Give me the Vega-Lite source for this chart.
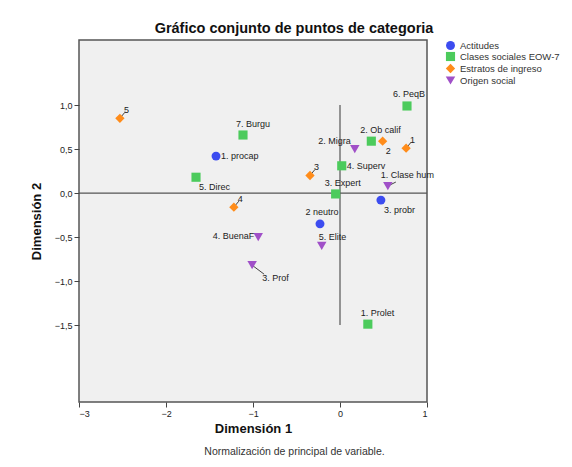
{
  "$schema": "https://vega.github.io/schema/vega-lite/v6.json",
  "autosize": "none",
  "width": 348,
  "height": 362,
  "padding": {"left": 79, "top": 40, "right": 145, "bottom": 65},
  "background": "white",
  "config": {
    "font": "Liberation Sans",
    "view": {"fill": "#f0f0f0", "stroke": "#555555", "strokeWidth": 1.5},
    "axis": {"grid": false, "domain": false, "tickColor": "#444444", "tickSize": 5, "labelFontSize": 9, "labelColor": "#222222", "titleFontSize": 13, "titleFontWeight": "bold", "titleColor": "#111111"}
  },
  "title": {"text": "Gráfico conjunto de puntos de categoria", "fontSize": 14.5, "fontWeight": "bold", "color": "#111111", "anchor": "middle", "offset": 4, "dx": 41},
  "data": {"values": [
    {"grupo": "Actitudes", "label": "1. procap", "d1": -1.425, "d2": 0.42},
    {"grupo": "Actitudes", "label": "2 neutro", "d1": -0.23, "d2": -0.35},
    {"grupo": "Actitudes", "label": "3. probr", "d1": 0.47, "d2": -0.08},
    {"grupo": "Clases sociales EOW-7", "label": "7. Burgu", "d1": -1.115, "d2": 0.66},
    {"grupo": "Clases sociales EOW-7", "label": "5. Direc", "d1": -1.655, "d2": 0.18},
    {"grupo": "Clases sociales EOW-7", "label": "6. PeqB", "d1": 0.77, "d2": 0.99},
    {"grupo": "Clases sociales EOW-7", "label": "2. Ob calif", "d1": 0.36, "d2": 0.59},
    {"grupo": "Clases sociales EOW-7", "label": "4. Superv", "d1": 0.02, "d2": 0.31},
    {"grupo": "Clases sociales EOW-7", "label": "3. Expert", "d1": -0.05, "d2": -0.01},
    {"grupo": "Clases sociales EOW-7", "label": "1. Prolet", "d1": 0.32, "d2": -1.49},
    {"grupo": "Estratos de ingreso", "label": "5", "d1": -2.53, "d2": 0.85},
    {"grupo": "Estratos de ingreso", "label": "4", "d1": -1.22, "d2": -0.16},
    {"grupo": "Estratos de ingreso", "label": "3", "d1": -0.345, "d2": 0.2},
    {"grupo": "Estratos de ingreso", "label": "2", "d1": 0.49, "d2": 0.59},
    {"grupo": "Estratos de ingreso", "label": "1", "d1": 0.76, "d2": 0.51},
    {"grupo": "Origen social", "label": "4. BuenaF", "d1": -0.94, "d2": -0.5},
    {"grupo": "Origen social", "label": "3. Prof", "d1": -1.01, "d2": -0.82},
    {"grupo": "Origen social", "label": "5. Elite", "d1": -0.21, "d2": -0.6},
    {"grupo": "Origen social", "label": "2. Migra", "d1": 0.17, "d2": 0.5},
    {"grupo": "Origen social", "label": "1. Clase hum", "d1": 0.55, "d2": 0.08}
  ]},
  "encoding": {
    "x": {"field": "d1", "type": "quantitative", "scale": {"domain": [-3, 1], "nice": false, "zero": false}, "axis": null},
    "y": {"field": "d2", "type": "quantitative", "scale": {"domain": [-2.375, 1.74], "nice": false, "zero": false}, "axis": {"title": "Dimensión 2", "values": [-1.5, -1, -0.5, 0, 0.5, 1], "labelExpr": "replace(format(datum.value, '.1f'), '.', ',')", "titlePadding": 11}}
  },
  "layer": [
    {
      "data": {"values": [{"h": 0}]},
      "mark": {"type": "rule", "color": "#555555", "strokeWidth": 1.2},
      "encoding": {"x": null, "y": {"field": "h", "type": "quantitative"}}
    },
    {
      "data": {"values": [{"v": 0, "a": -1.5, "b": 1.0}]},
      "mark": {"type": "rule", "color": "#555555", "strokeWidth": 1.2},
      "encoding": {"x": {"field": "v", "type": "quantitative", "axis": null}, "y": {"field": "a", "type": "quantitative"}, "y2": {"field": "b"}}
    },
    {
      "transform": [{"filter": {"field": "label", "oneOf": ["5", "4", "3", "1"]}}],
      "mark": {"type": "rule", "color": "#444444", "strokeWidth": 1, "x2Offset": 5, "y2Offset": -6},
      "encoding": {"x2": {"field": "d1"}, "y2": {"field": "d2"}}
    },
    {
      "transform": [{"filter": {"field": "label", "oneOf": ["3. Prof"]}}],
      "mark": {"type": "rule", "color": "#444444", "strokeWidth": 1, "x2Offset": 12, "y2Offset": 9},
      "encoding": {"x2": {"field": "d1"}, "y2": {"field": "d2"}}
    },
    {
      "transform": [{"filter": {"field": "label", "oneOf": ["1. Clase hum"]}}],
      "mark": {"type": "rule", "color": "#444444", "strokeWidth": 1, "x2Offset": 8, "y2Offset": -4},
      "encoding": {"x2": {"field": "d1"}, "y2": {"field": "d2"}}
    },
    {
      "mark": {"type": "point", "filled": true, "opacity": 1},
      "encoding": {
        "x": {"field": "d1", "type": "quantitative", "axis": {"orient": "bottom", "title": "Dimensión 1", "values": [-3, -2, -1, 0, 1], "format": "d", "titlePadding": 4}},
        "color": {"field": "grupo", "type": "nominal", "scale": {"domain": ["Actitudes", "Clases sociales EOW-7", "Estratos de ingreso", "Origen social"], "range": ["#3c4cf0", "#4ccb5c", "#ff8c1a", "#a050c8"]}, "legend": {"title": null, "orient": "none", "legendX": 366, "legendY": 0, "labelFontSize": 9.5, "labelColor": "#333333", "symbolSize": 60, "rowPadding": 1, "labelOffset": 4}},
        "shape": {"field": "grupo", "type": "nominal", "scale": {"domain": ["Actitudes", "Clases sociales EOW-7", "Estratos de ingreso", "Origen social"], "range": ["circle", "square", "diamond", "triangle-down"]}},
        "size": {"field": "grupo", "type": "nominal", "scale": {"domain": ["Actitudes", "Clases sociales EOW-7", "Estratos de ingreso", "Origen social"], "range": [80, 90, 40, 45]}, "legend": null}
      }
    },
    {
      "transform": [{"filter": {"field": "label", "oneOf": ["1. procap", "4. Superv"]}}],
      "mark": {"type": "text", "align": "left", "baseline": "middle", "dx": 5, "dy": 0, "fontSize": 9, "color": "#222222"},
      "encoding": {"text": {"field": "label"}}
    },
    {
      "transform": [{"filter": {"field": "label", "oneOf": ["4. BuenaF"]}}],
      "mark": {"type": "text", "align": "right", "baseline": "middle", "dx": -4, "dy": -1, "fontSize": 9, "color": "#222222"},
      "encoding": {"text": {"field": "label"}}
    },
    {
      "transform": [{"filter": {"field": "label", "oneOf": ["2. Migra"]}}],
      "mark": {"type": "text", "align": "right", "baseline": "middle", "dx": -4, "dy": -8, "fontSize": 9, "color": "#222222"},
      "encoding": {"text": {"field": "label"}}
    },
    {
      "transform": [{"filter": {"field": "label", "oneOf": ["7. Burgu", "1. Prolet", "1. Clase hum"]}}],
      "mark": {"type": "text", "align": "left", "baseline": "middle", "dx": -7, "dy": -11, "fontSize": 9, "color": "#222222"},
      "encoding": {"text": {"field": "label"}}
    },
    {
      "transform": [{"filter": {"field": "label", "oneOf": ["2. Ob calif", "3. Expert"]}}],
      "mark": {"type": "text", "align": "left", "baseline": "middle", "dx": -11, "dy": -11, "fontSize": 9, "color": "#222222"},
      "encoding": {"text": {"field": "label"}}
    },
    {
      "transform": [{"filter": {"field": "label", "oneOf": ["6. PeqB"]}}],
      "mark": {"type": "text", "align": "left", "baseline": "middle", "dx": -14, "dy": -12, "fontSize": 9, "color": "#222222"},
      "encoding": {"text": {"field": "label"}}
    },
    {
      "transform": [{"filter": {"field": "label", "oneOf": ["2 neutro"]}}],
      "mark": {"type": "text", "align": "center", "baseline": "middle", "dx": 2, "dy": -12, "fontSize": 9, "color": "#222222"},
      "encoding": {"text": {"field": "label"}}
    },
    {
      "transform": [{"filter": {"field": "label", "oneOf": ["5. Elite"]}}],
      "mark": {"type": "text", "align": "left", "baseline": "middle", "dx": -3, "dy": -9, "fontSize": 9, "color": "#222222"},
      "encoding": {"text": {"field": "label"}}
    },
    {
      "transform": [{"filter": {"field": "label", "oneOf": ["3. probr", "5. Direc", "2"]}}],
      "mark": {"type": "text", "align": "left", "baseline": "middle", "dx": 3, "dy": 10, "fontSize": 9, "color": "#222222"},
      "encoding": {"text": {"field": "label"}}
    },
    {
      "transform": [{"filter": {"field": "label", "oneOf": ["3. Prof"]}}],
      "mark": {"type": "text", "align": "left", "baseline": "middle", "dx": 10, "dy": 13, "fontSize": 9, "color": "#222222"},
      "encoding": {"text": {"field": "label"}}
    },
    {
      "transform": [{"filter": {"field": "label", "oneOf": ["5", "4", "3", "1"]}}],
      "mark": {"type": "text", "align": "left", "baseline": "middle", "dx": 4, "dy": -8, "fontSize": 9, "color": "#222222"},
      "encoding": {"text": {"field": "label"}}
    },
    {
      "data": {"values": [{"h": 0}]},
      "mark": {"type": "rule", "opacity": 0},
      "encoding": {
        "y": null,
        "x": {"field": "h", "type": "quantitative", "axis": {"orient": "bottom", "title": "Normalización de principal de variable.", "titleFontWeight": "normal", "titleFontSize": 10.5, "titleColor": "#333333", "titleX": 215, "titleAlign": "center", "labels": false, "ticks": false, "domain": false, "titlePadding": 44}}
      }
    }
  ],
  "resolve": {"axis": {"x": "independent"}}
}
